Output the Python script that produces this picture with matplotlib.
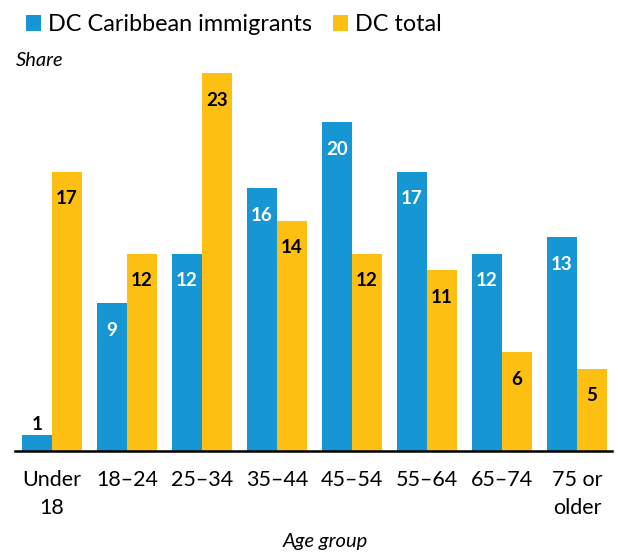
import matplotlib.pyplot as plt
import numpy as np

plt.rcParams['font.family'] = ['Lato', 'DejaVu Sans']

age_groups = ['Under\n18', '18–24', '25–34', '35–44', '45–54', '55–64', '65–74', '75 or\nolder']
caribbean = [1, 9, 12, 16, 20, 17, 12, 13]
dc_total = [17, 12, 23, 14, 12, 11, 6, 5]

blue = '#1696d2'
yellow = '#fdbf11'

fig = plt.figure(figsize=(6.18, 5.54), dpi=100)
ax = fig.add_axes([15 / 618, 103 / 554, 597 / 618, 378 / 554])

x = np.arange(len(age_groups))
w = 0.4
b1 = ax.bar(x - w / 2, caribbean, w, color=blue, label='DC Caribbean immigrants')
b2 = ax.bar(x + w / 2, dc_total, w, color=yellow, label='DC total')

# value labels: inside the top of the bar, or just above it when the bar is too short
for bars, vals, col in [(b1, caribbean, 'white'), (b2, dc_total, 'black')]:
    for rect, v in zip(bars, vals):
        cx = rect.get_x() + rect.get_width() / 2
        if v < 3:
            ax.annotate(str(v), (cx, v), xytext=(0, 1), textcoords='offset points',
                        ha='center', va='bottom', fontsize=13.5, fontweight='bold', color='black')
        else:
            ax.annotate(str(v), (cx, v), xytext=(0, -19.5), textcoords='offset points',
                        ha='center', va='center', fontsize=13.5, fontweight='bold', color=col)

ax.set_xlim(-0.493, 7.467)
ax.set_ylim(0, 23)
ax.set_xticks(x)
ax.set_xticklabels(age_groups, fontsize=15.5, linespacing=1.45)
ax.tick_params(axis='x', length=0, pad=14)
ax.set_yticks([])
for s in ['top', 'right', 'left']:
    ax.spines[s].set_visible(False)
ax.spines['bottom'].set_linewidth(1.8)
ax.spines['bottom'].set_color('black')

fig.text(325 / 618, 13 / 554, 'Age group', ha='center', va='center', fontsize=14.5, style='italic')
fig.text(16 / 618, 1 - 60 / 554, 'Share', ha='left', va='center', fontsize=14.5, style='italic')

fig.legend(handles=[b1, b2], loc='upper left', bbox_to_anchor=(12 / 618, 1.0), ncol=2,
           frameon=False, fontsize=16.8, handlelength=0.65, handleheight=0.65,
           handletextpad=0.3, columnspacing=0.9, borderaxespad=0.2)

fig.savefig('out.png', dpi=100)
